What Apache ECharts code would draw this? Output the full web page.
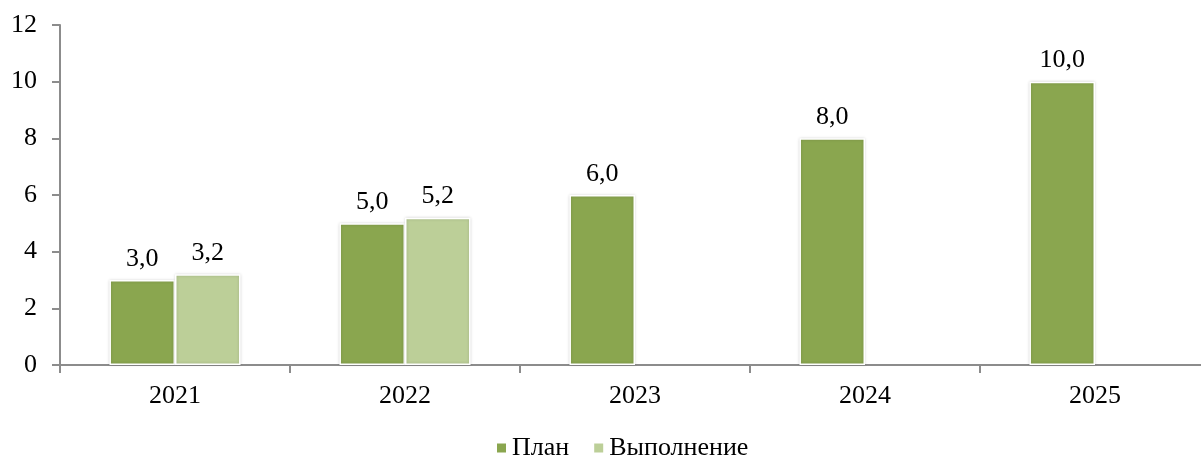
<!DOCTYPE html>
<html>
<head>
<meta charset="utf-8">
<script src="https://cdn.jsdelivr.net/npm/echarts@6/dist/echarts.min.js"></script>
<style>
html, body { margin: 0; padding: 0; background: #fff; overflow: hidden; }
#chart { width: 1201px; height: 459px; }
</style>
</head>
<body>
<div id="chart"></div>
<script>
const years = ['2021', '2022', '2023', '2024', '2025']
const plan = [3.0, 5.0, 6.0, 8.0, 10.0]
const done = [3.2, 5.2, null, null, null]

const font = '"Liberation Serif", "Times New Roman", serif'
const axisColor = '#8c8c8c'

const chart = echarts.init(document.getElementById('chart'))

const barLabel = {
	show: true,
	position: 'top',
	distance: 8,
	color: '#000',
	fontFamily: font,
	fontSize: 26,
	formatter: (p) => p.value.toFixed(1).replace('.', ','),
}

// ось в оригинале уходит за правый край картинки
chart.setOption({
	animation: false,
	grid: { left: 60, right: -9, top: 25, bottom: 94, outerBoundsMode: 'none' },
	legend: {
		top: 430,
		left: 490,
		itemWidth: 11,
		itemHeight: 11,
		itemGap: 23,
		itemTextGap: 7,
		icon: 'rect',
		textStyle: { color: '#000', fontFamily: font, fontSize: 26 },
		data: ['План', 'Выполнение'],
	},
	xAxis: {
		type: 'category',
		data: years,
		axisLine: { lineStyle: { color: axisColor, width: 2 } },
		axisTick: { show: true, length: 8, lineStyle: { color: axisColor, width: 2 } },
		axisLabel: { color: '#000', fontFamily: font, fontSize: 26, margin: 18 },
	},
	yAxis: {
		type: 'value',
		min: 0,
		max: 12,
		interval: 2,
		splitLine: { show: false },
		axisLine: { show: true, lineStyle: { color: axisColor, width: 2 } },
		axisTick: { show: true, length: 8, lineStyle: { color: axisColor, width: 2 } },
		axisLabel: { color: '#000', fontFamily: font, fontSize: 26, margin: 23 },
	},
	series: [
		{
			name: 'План',
			type: 'bar',
			data: plan,
			barGap: '0%',
			barCategoryGap: '43%',
			itemStyle: {
				color: '#8aa64f',
				borderColor: '#fff',
				borderWidth: 1.5,
				shadowColor: 'rgba(0,0,0,0.18)',
				shadowBlur: 3,
			},
			label: barLabel,
		},
		{
			name: 'Выполнение',
			type: 'bar',
			data: done,
			itemStyle: {
				color: '#bccf98',
				borderColor: '#fff',
				borderWidth: 1.5,
				shadowColor: 'rgba(0,0,0,0.18)',
				shadowBlur: 3,
			},
			label: barLabel,
		},
	],
})
</script>
</body>
</html>
